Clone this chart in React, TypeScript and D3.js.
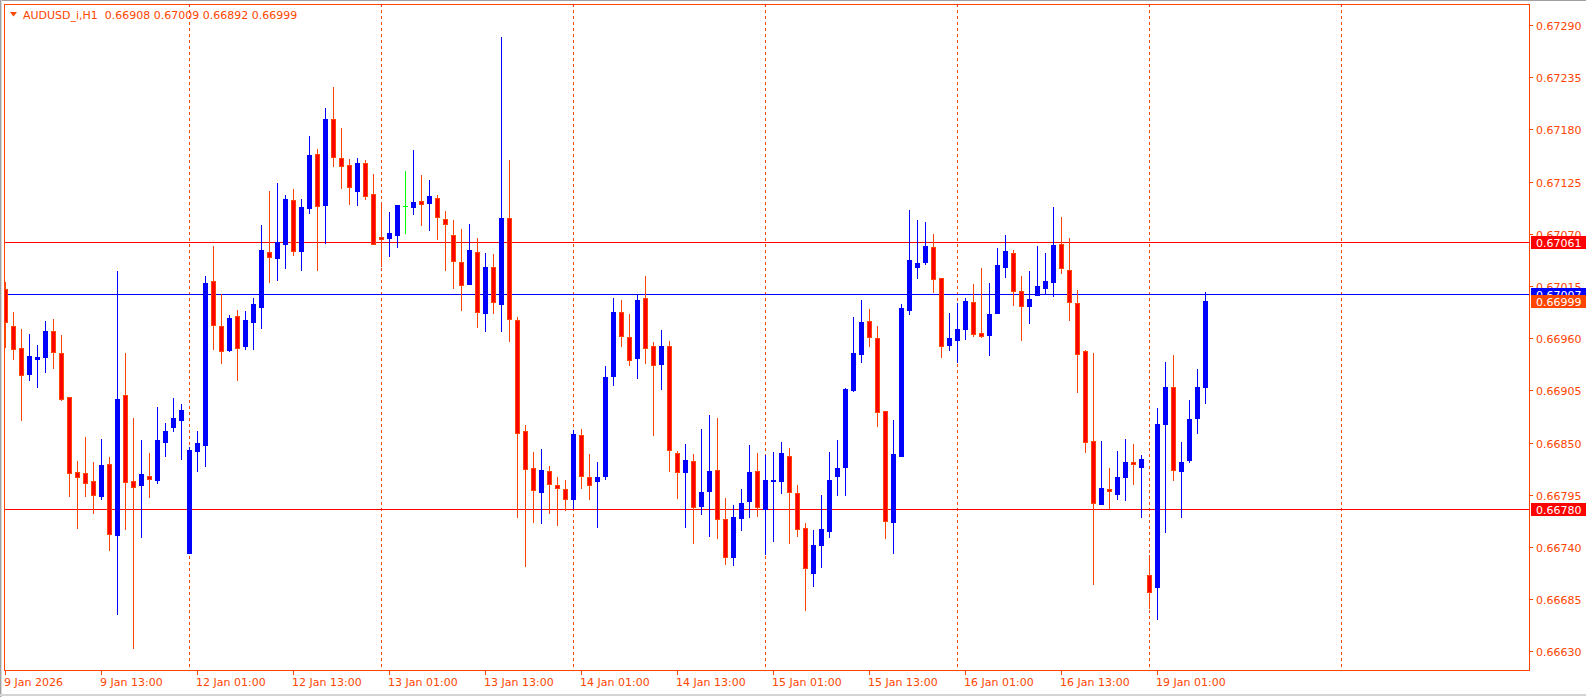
import { useEffect, useRef } from 'react';
import * as d3 from 'd3';

// AUDUSD H1 bars, 9 Jan 2026 01:00 .. 19 Jan 03:00 (weekend skipped)
const opens = [
  0.67012, 0.66973, 0.6695, 0.66922, 0.66938, 0.6694, 0.66968, 0.66944, 0.66898, 0.66819,
  0.66818, 0.66809, 0.66794, 0.66827, 0.66753, 0.669, 0.66809, 0.66805, 0.66815, 0.66811,
  0.66851, 0.66866, 0.66874, 0.66734, 0.66841, 0.66847, 0.6702, 0.66973, 0.66947, 0.66983,
  0.66952, 0.66977, 0.66993, 0.67051, 0.67044, 0.67059, 0.67106, 0.67052, 0.67097, 0.67154,
  0.671, 0.67191, 0.6715, 0.67142, 0.67115, 0.67145, 0.67112, 0.67067, 0.67065, 0.67069,
  0.67099, 0.67098, 0.67104, 0.67102, 0.67108, 0.67086, 0.67069, 0.6704, 0.67017, 0.67051,
  0.66986, 0.67035, 0.66996, 0.67087, 0.66979, 0.66862, 0.66823, 0.66798, 0.6682, 0.66805,
  0.66801, 0.6679, 0.66858, 0.66814, 0.66809, 0.66815, 0.6692, 0.66988, 0.66961, 0.66939,
  0.67002, 0.66952, 0.66933, 0.66952, 0.66839, 0.66819, 0.66831, 0.66783, 0.66799, 0.66821,
  0.66769, 0.66729, 0.6677, 0.66788, 0.6682, 0.6678, 0.66809, 0.66809, 0.66836, 0.66797,
  0.6676, 0.66712, 0.66742, 0.66757, 0.66815, 0.66824, 0.66905, 0.66943, 0.66978, 0.6696,
  0.66883, 0.66766, 0.66836, 0.6699, 0.67035, 0.6704, 0.67056, 0.67023, 0.66953, 0.66958,
  0.6697, 0.66998, 0.66965, 0.66963, 0.66986, 0.67035, 0.6705, 0.6701, 0.66994, 0.67005,
  0.67013, 0.67019, 0.67059, 0.67032, 0.66997, 0.66946, 0.66852, 0.66785, 0.66801, 0.66796,
  0.66814, 0.6683, 0.66824, 0.6671, 0.66698, 0.66869, 0.66909, 0.6682, 0.66832, 0.66876,
  0.66908,
];
const highs = [
  0.67019, 0.66988, 0.6697, 0.66964, 0.66953, 0.66978, 0.6698, 0.66963, 0.66898, 0.66831,
  0.66856, 0.66829, 0.66854, 0.66835, 0.67031, 0.66944, 0.66876, 0.66853, 0.66839, 0.66887,
  0.66871, 0.66897, 0.66891, 0.66845, 0.66862, 0.67025, 0.67057, 0.67006, 0.66984, 0.6699,
  0.66989, 0.67002, 0.67079, 0.67115, 0.67124, 0.67111, 0.67117, 0.67107, 0.67173, 0.67159,
  0.67202, 0.67225, 0.67181, 0.67149, 0.6715, 0.67148, 0.67133, 0.67103, 0.67093, 0.671,
  0.67136, 0.67158, 0.67132, 0.67127, 0.67111, 0.67094, 0.67084, 0.67075, 0.6708, 0.67065,
  0.6705, 0.67049, 0.67277, 0.67148, 0.66982, 0.66868, 0.6684, 0.66843, 0.66825, 0.66814,
  0.66811, 0.66863, 0.66864, 0.66838, 0.66829, 0.66931, 0.67002, 0.67, 0.66985, 0.67005,
  0.67026, 0.66956, 0.66969, 0.66957, 0.66841, 0.66848, 0.66838, 0.66864, 0.66879, 0.66876,
  0.66792, 0.66784, 0.66801, 0.66847, 0.66839, 0.66837, 0.6684, 0.66851, 0.66844, 0.66805,
  0.66765, 0.66758, 0.66795, 0.6684, 0.66853, 0.66907, 0.66982, 0.67, 0.66991, 0.66973,
  0.66883, 0.66874, 0.66996, 0.67095, 0.67084, 0.67082, 0.6707, 0.67023, 0.66987, 0.66997,
  0.67002, 0.67017, 0.67034, 0.67018, 0.67055, 0.67069, 0.67053, 0.67026, 0.67031, 0.67057,
  0.6705, 0.67098, 0.67088, 0.67066, 0.67011, 0.66948, 0.66944, 0.66852, 0.66823, 0.66841,
  0.66854, 0.66848, 0.66837, 0.66732, 0.66886, 0.66935, 0.66942, 0.66851, 0.66895, 0.66928,
  0.67009,
];
const lows = [
  0.66951, 0.66938, 0.66874, 0.66916, 0.66909, 0.66924, 0.66929, 0.66895, 0.66794, 0.6676,
  0.66794, 0.66776, 0.66791, 0.66737, 0.66669, 0.66759, 0.66633, 0.6675, 0.66793, 0.66807,
  0.66836, 0.66862, 0.66833, 0.66734, 0.6682, 0.66825, 0.66949, 0.66934, 0.66946, 0.66916,
  0.66949, 0.66949, 0.66971, 0.67019, 0.67021, 0.67034, 0.67048, 0.67032, 0.67092, 0.67032,
  0.6706, 0.67141, 0.67118, 0.67101, 0.671, 0.67107, 0.67059, 0.67036, 0.67047, 0.67056,
  0.67071, 0.67091, 0.67079, 0.67074, 0.67064, 0.67032, 0.67013, 0.6699, 0.67017, 0.66972,
  0.66968, 0.66987, 0.66968, 0.66957, 0.66771, 0.6672, 0.66766, 0.66765, 0.66776, 0.66763,
  0.66779, 0.66781, 0.66802, 0.6679, 0.66761, 0.66812, 0.66911, 0.66952, 0.66932, 0.66918,
  0.66934, 0.66858, 0.66906, 0.6682, 0.66792, 0.66761, 0.66744, 0.66775, 0.66751, 0.66749,
  0.66722, 0.66721, 0.66758, 0.66771, 0.66773, 0.66733, 0.66746, 0.66797, 0.66744, 0.66751,
  0.66673, 0.66699, 0.66719, 0.6675, 0.66795, 0.66795, 0.66904, 0.66935, 0.66952, 0.66867,
  0.66749, 0.66734, 0.66836, 0.66985, 0.67023, 0.67038, 0.67009, 0.6694, 0.66948, 0.66935,
  0.66959, 0.66962, 0.66961, 0.66942, 0.66986, 0.67024, 0.66995, 0.66958, 0.66976, 0.67005,
  0.67006, 0.67004, 0.67029, 0.66979, 0.66903, 0.6684, 0.66701, 0.66785, 0.66781, 0.6679,
  0.66789, 0.66806, 0.66771, 0.66676, 0.66664, 0.66756, 0.6681, 0.66771, 0.66829, 0.6686,
  0.66892,
];
const closes = [
  0.66977, 0.66949, 0.66921, 0.66941, 0.6694, 0.66968, 0.66945, 0.66896, 0.66818, 0.66814,
  0.66807, 0.66795, 0.66826, 0.66754, 0.66896, 0.66808, 0.66803, 0.66817, 0.66812, 0.66853,
  0.66862, 0.66876, 0.66884, 0.66842, 0.6685, 0.67018, 0.66974, 0.66946, 0.66981, 0.6695,
  0.66979, 0.66996, 0.67053, 0.67045, 0.67061, 0.67107, 0.67052, 0.67098, 0.67153, 0.67099,
  0.67191, 0.67151, 0.67141, 0.67119, 0.67145, 0.6711, 0.67059, 0.67064, 0.67071, 0.671,
  0.67099, 0.67103, 0.67101, 0.6711, 0.67088, 0.6708, 0.67041, 0.67016, 0.67053, 0.66988,
  0.67035, 0.66998, 0.67087, 0.6698, 0.6686, 0.66822, 0.668, 0.66821, 0.66806, 0.66802,
  0.6679, 0.66859, 0.66815, 0.66805, 0.66814, 0.66919, 0.66988, 0.66962, 0.66937, 0.67,
  0.6695, 0.66932, 0.66952, 0.66842, 0.66819, 0.66832, 0.66782, 0.66798, 0.6682, 0.66769,
  0.66729, 0.66771, 0.66786, 0.66819, 0.66782, 0.6681, 0.66811, 0.66839, 0.66798, 0.66759,
  0.66718, 0.66742, 0.66759, 0.66811, 0.66823, 0.66906, 0.66944, 0.66977, 0.66961, 0.66882,
  0.66767, 0.66838, 0.66992, 0.67042, 0.67039, 0.67057, 0.67022, 0.66952, 0.6696, 0.6697,
  0.66999, 0.66964, 0.66962, 0.66985, 0.67037, 0.67052, 0.6701, 0.66994, 0.67001, 0.67015,
  0.6702, 0.67058, 0.67034, 0.66998, 0.66943, 0.66851, 0.66786, 0.66802, 0.66799, 0.66814,
  0.6683, 0.66827, 0.66833, 0.66692, 0.6687, 0.66909, 0.66821, 0.6683, 0.66875, 0.66909,
  0.66999,
];

// time scale labels, one every 12 bars
const timeLabels = [
  '9 Jan 2026', '9 Jan 13:00', '12 Jan 01:00', '12 Jan 13:00', '13 Jan 01:00',
  '13 Jan 13:00', '14 Jan 01:00', '14 Jan 13:00', '15 Jan 01:00', '15 Jan 13:00',
  '16 Jan 01:00', '16 Jan 13:00', '19 Jan 01:00',
];
const labelStep = 12;
// bars where the dotted day separators fall
const separatorBars = [23, 47, 71, 95, 119, 143, 167];

const priceTicks = [
  0.6729, 0.67235, 0.6718, 0.67125, 0.6707, 0.67015, 0.6696,
  0.66905, 0.6685, 0.66795, 0.6674, 0.66685, 0.6663,
];
const redLevels = [0.67061, 0.6678];
const blueLevels = [0.67007];
const bidPrice = 0.66999;
const title = 'AUDUSD_i,H1  0.66908 0.67009 0.66892 0.66999';

const BLUE = '#0000ff';
const RED = '#ff0000';
const ORANGE = '#ff4500';
const LIME = '#00ff00';
const FONT = '"DejaVu Sans", Tahoma, sans-serif';

const W = 1586;
const H = 697;
const plot = { left: 4, right: 1529, top: 4, bottom: 670 };

const App = () => {
  const ref = useRef<SVGSVGElement>(null);

  useEffect(() => {
    const svg = d3.select(ref.current);
    svg.selectAll('*').remove();

    const x = d3.scaleLinear().domain([0, 1]).range([5.5, 13.5]);
    const y = d3.scaleLinear().domain([0.666103, 0.673121]).range([670, 4]);
    const px = (i: number) => Math.floor(x(i));
    const py = (v: number) => Math.round(y(v));

    const bars = opens.map((o, i) => ({ i, o, h: highs[i], l: lows[i], c: closes[i] }));
    const wickColor = (d: any) => (d.c > d.o ? BLUE : d.c < d.o ? ORANGE : LIME);

    svg.append('rect').attr('width', W).attr('height', H).attr('fill', '#fff');

    // window edges
    svg.append('rect').attr('x', 0).attr('y', 0).attr('width', W).attr('height', 1).attr('fill', '#a0a0a0');
    svg.append('rect').attr('x', 0).attr('y', 0).attr('width', 1).attr('height', H).attr('fill', '#a0a0a0');
    svg.append('rect').attr('x', 1).attr('y', 0).attr('width', 1).attr('height', H).attr('fill', '#d8d8d8');
    svg.append('rect').attr('x', 0).attr('y', 694).attr('width', W).attr('height', 2).attr('fill', '#d4d4d4');

    svg
      .append('defs')
      .append('clipPath')
      .attr('id', 'plotClip')
      .append('rect')
      .attr('x', plot.left + 1)
      .attr('y', plot.top + 1)
      .attr('width', plot.right - plot.left - 1)
      .attr('height', plot.bottom - plot.top - 1);

    const inner = svg.append('g').attr('clip-path', 'url(#plotClip)').attr('shape-rendering', 'crispEdges');

    // dotted separators
    inner
      .selectAll('line.sep')
      .data(separatorBars)
      .join('line')
      .attr('x1', (d) => px(d) + 0.5)
      .attr('x2', (d) => px(d) + 0.5)
      .attr('y1', plot.top)
      .attr('y2', plot.bottom)
      .attr('stroke', ORANGE)
      .attr('stroke-dasharray', '3,3');

    // horizontal levels
    const levels = [
      ...redLevels.map((v) => ({ v, col: RED })),
      ...blueLevels.map((v) => ({ v, col: BLUE })),
    ];
    inner
      .selectAll('line.lvl')
      .data(levels)
      .join('line')
      .attr('x1', plot.left)
      .attr('x2', plot.right)
      .attr('y1', (d) => py(d.v) + 0.5)
      .attr('y2', (d) => py(d.v) + 0.5)
      .attr('stroke', (d) => d.col);

    // wicks
    inner
      .append('g')
      .selectAll('rect')
      .data(bars)
      .join('rect')
      .attr('x', (d) => px(d.i))
      .attr('y', (d) => py(d.h))
      .attr('width', 1)
      .attr('height', (d) => py(d.l) - py(d.h) + 1)
      .attr('fill', wickColor);

    // bodies
    const bodies = inner.append('g');
    bars.forEach((d) => {
      const top = py(Math.max(d.o, d.c));
      const bot = py(Math.min(d.o, d.c));
      const h = Math.max(bot - top + 1, 1);
      const bx = px(d.i) - 2;
      if (d.c === d.o) {
        bodies.append('rect').attr('x', bx).attr('y', top).attr('width', 5).attr('height', 1).attr('fill', LIME);
      } else if (d.c > d.o) {
        bodies.append('rect').attr('x', bx).attr('y', top).attr('width', 5).attr('height', h).attr('fill', BLUE);
      } else {
        bodies.append('rect').attr('x', bx).attr('y', top).attr('width', 5).attr('height', h).attr('fill', ORANGE);
        if (h > 2) {
          bodies.append('rect').attr('x', bx + 1).attr('y', top + 1).attr('width', 3).attr('height', h - 2).attr('fill', RED);
        }
      }
    });

    // frame
    svg
      .append('rect')
      .attr('x', plot.left + 0.5)
      .attr('y', plot.top + 0.5)
      .attr('width', plot.right - plot.left)
      .attr('height', plot.bottom - plot.top)
      .attr('fill', 'none')
      .attr('stroke', ORANGE)
      .attr('shape-rendering', 'crispEdges');

    // title
    svg
      .append('path')
      .attr('d', 'M10,12 L17,12 L13.5,16.5 Z')
      .attr('fill', ORANGE);
    svg
      .append('text')
      .attr('x', 23)
      .attr('y', 19)
      .attr('fill', ORANGE)
      .style('font', `11px ${FONT}`)
      .style('white-space', 'pre')
      .text(title);

    // price scale
    const yAxis = svg.append('g').attr('shape-rendering', 'crispEdges');
    yAxis
      .selectAll('line')
      .data(priceTicks)
      .join('line')
      .attr('x1', plot.right + 1)
      .attr('x2', plot.right + 4)
      .attr('y1', (d) => py(d) + 0.5)
      .attr('y2', (d) => py(d) + 0.5)
      .attr('stroke', ORANGE);
    yAxis
      .selectAll('text')
      .data(priceTicks)
      .join('text')
      .attr('x', plot.right + 7)
      .attr('y', (d) => py(d) + 4.5)
      .attr('fill', ORANGE)
      .style('font', `11px ${FONT}`)
      .text((d) => d.toFixed(5));

    const tags = [
      ...redLevels.map((v) => ({ v, bg: RED })),
      ...blueLevels.map((v) => ({ v, bg: BLUE })),
      { v: bidPrice, bg: ORANGE },
    ];
    const tag = svg
      .append('g')
      .selectAll('g')
      .data(tags)
      .join('g')
      .attr('transform', (d) => `translate(0,${py(d.v)})`);
    tag
      .append('rect')
      .attr('x', plot.right + 2)
      .attr('y', -6)
      .attr('width', W - plot.right - 2)
      .attr('height', 13)
      .attr('fill', (d) => d.bg)
      .attr('shape-rendering', 'crispEdges');
    tag
      .append('text')
      .attr('x', plot.right + 7)
      .attr('y', 4.5)
      .attr('fill', '#fff')
      .style('font', `11px ${FONT}`)
      .text((d) => d.v.toFixed(5));

    // time scale
    const labelBars = timeLabels.map((t, i) => ({ t, bar: i * labelStep }));
    const xAxis = svg.append('g');
    xAxis
      .selectAll('rect')
      .data(labelBars)
      .join('rect')
      .attr('x', (d) => px(d.bar))
      .attr('y', plot.bottom + 1)
      .attr('width', 1)
      .attr('height', 4)
      .attr('fill', ORANGE);
    xAxis
      .selectAll('text')
      .data(labelBars)
      .join('text')
      .attr('x', (d) => px(d.bar) - 1)
      .attr('y', 686)
      .attr('fill', ORANGE)
      .style('font', `11px ${FONT}`)
      .text((d) => d.t);
  }, []);

  return (
    <div>
      <style>{'body{margin:0;}'}</style>
      <svg ref={ref} width={W} height={H} style={{ display: 'block' }} />
    </div>
  );
};

export default App;
